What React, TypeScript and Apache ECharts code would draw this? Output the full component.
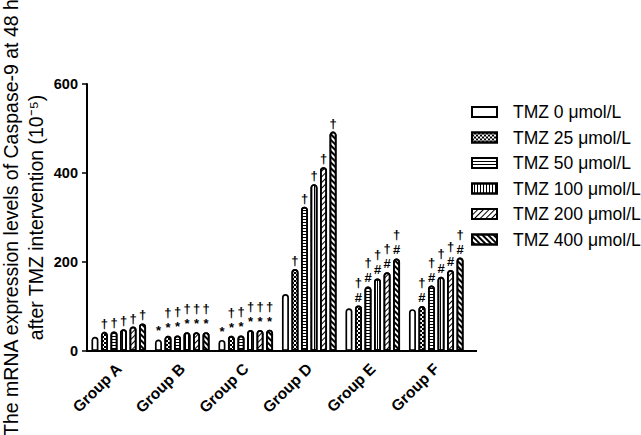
import React, { useEffect, useRef } from "react";
import * as echarts from "echarts";

const categories = ["Group A", "Group B", "Group C", "Group D", "Group E", "Group F"];
const seriesNames = [
  "TMZ 0 μmol/L",
  "TMZ 25 μmol/L",
  "TMZ 50 μmol/L",
  "TMZ 100 μmol/L",
  "TMZ 200 μmol/L",
  "TMZ 400 μmol/L",
];
const tmz0 = [32, 26, 25, 128, 96, 94];
const tmz25 = [43, 34, 34, 184, 102, 101];
const tmz50 = [44, 35, 35, 324, 145, 147];
const tmz100 = [49, 42, 47, 375, 163, 167];
const tmz200 = [55, 42, 47, 413, 177, 182];
const tmz400 = [62, 42, 48, 493, 208, 210];
const seriesValues = [tmz0, tmz25, tmz50, tmz100, tmz200, tmz400];

const marks0 = ["", "*", "*", "", "", ""];
const marksTreated = ["†", "†\n*", "†\n*", "†", "†\n#", "†\n#"];
const seriesMarks = [marks0, marksTreated, marksTreated, marksTreated, marksTreated, marksTreated];

const yTicks = [0, 200, 400, 600];

const decals: any[] = [
  null,
  {
    symbol: "rect",
    symbolSize: 1,
    color: "#000",
    backgroundColor: "#fff",
    dashArrayX: [[2, 2], [0, 2, 2, 0]],
    dashArrayY: [2, 0],
  },
  {
    symbol: "rect",
    symbolSize: 1,
    color: "#000",
    backgroundColor: "#fff",
    dashArrayX: [1, 0],
    dashArrayY: [1, 2],
  },
  {
    symbol: "rect",
    symbolSize: 1,
    color: "#000",
    backgroundColor: "#fff",
    dashArrayX: [1, 0],
    dashArrayY: [1, 2],
    rotation: Math.PI / 2,
  },
  {
    symbol: "rect",
    symbolSize: 1,
    color: "#000",
    backgroundColor: "#fff",
    dashArrayX: [1, 0],
    dashArrayY: [1, 2.5],
    rotation: -Math.PI / 4,
  },
  {
    symbol: "rect",
    symbolSize: 1,
    color: "#000",
    backgroundColor: "#fff",
    dashArrayX: [1, 0],
    dashArrayY: [1.3, 1.7],
    rotation: Math.PI / 4,
  },
];

export default function App() {
  const ref = useRef<HTMLDivElement>(null);
  useEffect(() => {
    if (!ref.current) return;
    const chart = echarts.init(ref.current, null, { renderer: "svg" });
    const font = "Liberation Sans, Arial, sans-serif";
    const series = seriesNames.map((name, i) => {
      const itemStyle: any = {
        color: "#fff",
        borderColor: "#000",
        borderWidth: 1.7,
        borderRadius: [4, 4, 0, 0],
      };
      if (decals[i]) itemStyle.decal = decals[i];
      return {
        name,
        type: "bar",
        data: seriesValues[i],
        barWidth: 7,
        barGap: "36%",
        itemStyle,
        label: {
          show: true,
          position: "top",
          distance: 1,
          color: "#000",
          fontFamily: font,
          fontWeight: "bold",
          fontSize: 13,
          lineHeight: 15,
          formatter: (p: any) => seriesMarks[i][p.dataIndex],
        },
      };
    });
    chart.setOption({
      animation: false,
      backgroundColor: "#fff",
      grid: {
        left: 87,
        right: 173,
        top: 84,
        bottom: 84,
        containLabel: false,
        outerBoundsMode: "none",
      },
      legend: {
        orient: "vertical",
        left: 471,
        top: 103,
        padding: 0,
        icon: "rect",
        itemWidth: 25,
        itemHeight: 10,
        itemGap: 7.5,
        textStyle: {
          fontFamily: font,
          fontSize: 17.5,
          color: "#000",
          lineHeight: 17,
          padding: [0, 0, 0, 11],
        },
        data: seriesNames,
      },
      xAxis: {
        type: "category",
        data: categories,
        axisLine: { lineStyle: { color: "#000", width: 2 } },
        axisTick: { alignWithLabel: true, length: 5, lineStyle: { color: "#000", width: 1.5 } },
        axisLabel: {
          rotate: 45,
          margin: 15,
          color: "#000",
          fontFamily: font,
          fontWeight: "bold",
          fontSize: 15.5,
        },
      },
      yAxis: {
        type: "value",
        min: 0,
        max: 600,
        interval: 200,
        name: "The mRNA expression levels of Caspase-9 at 48 h\nafter TMZ intervention (10⁻⁵)",
        nameLocation: "middle",
        nameGap: 39,
        nameMoveOverlap: false,
        nameTextStyle: { fontFamily: font, fontSize: 19.5, color: "#000", lineHeight: 25 },
        splitLine: { show: false },
        axisLine: { show: true, lineStyle: { color: "#000", width: 2 } },
        axisTick: { show: true, length: 5, lineStyle: { color: "#000", width: 1.5 } },
        axisLabel: {
          color: "#000",
          fontFamily: font,
          fontWeight: "bold",
          fontSize: 14.5,
          margin: 9,
          customValues: yTicks,
        },
      },
      graphic: [
        {
          type: "line",
          shape: { x1: 467, y1: 351, x2: 477, y2: 351 },
          style: { stroke: "#000", lineWidth: 2 },
        },
      ],
      series,
    });
    return () => chart.dispose();
  }, []);
  return <div ref={ref} style={{ width: 641, height: 435, position: "absolute", left: 0, top: 0 }} />;
}
